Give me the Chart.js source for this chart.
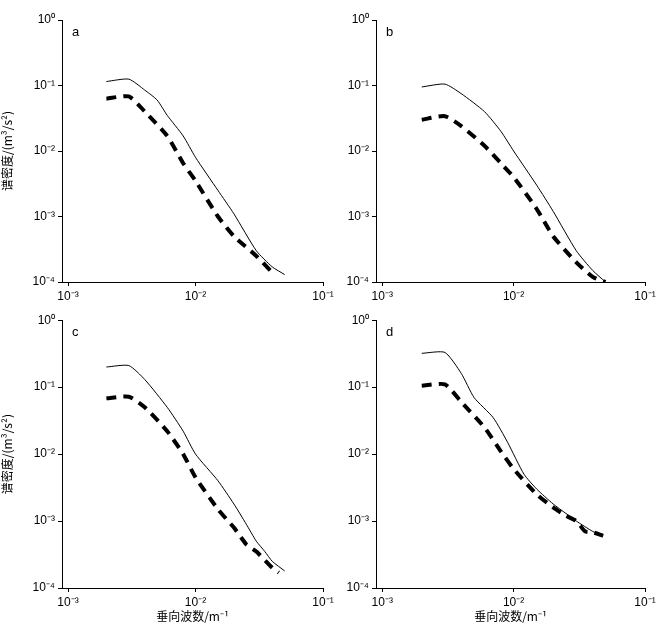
<!DOCTYPE html>
<html><head><meta charset="utf-8">
<script src="https://cdn.jsdelivr.net/npm/chart.js@4.4.0/dist/chart.umd.min.js"></script>
<style>
body{margin:0;background:#fff;width:667px;height:626px;position:relative;overflow:hidden}
.p{position:absolute}
</style></head><body>
<div class="p" style="left:0;top:0;width:340px;height:310px"><canvas id="ca"></canvas></div>
<div class="p" style="left:340px;top:0;width:327px;height:310px"><canvas id="cb"></canvas></div>
<div class="p" style="left:0;top:310px;width:340px;height:316px"><canvas id="cc"></canvas></div>
<div class="p" style="left:340px;top:310px;width:327px;height:316px"><canvas id="cd"></canvas></div>
<script>
// wavenumber (1/m) and spectral density (m^3/s^2)
const aX = [0.002, 0.003, 0.004, 0.005, 0.006, 0.008, 0.01, 0.015, 0.02, 0.03, 0.04, 0.05];
const aSolid = [0.115, 0.125, 0.085, 0.06, 0.035, 0.017, 0.008, 0.0025, 0.0011, 0.0003, 0.00017, 0.00013];
const aDashX = [0.002, 0.003, 0.004, 0.006, 0.008, 0.01, 0.015, 0.02, 0.03, 0.04];
const aDash = [0.063, 0.068, 0.04, 0.017, 0.0065, 0.0035, 0.001, 0.0005, 0.00025, 0.00014];

const bX = [0.002, 0.003, 0.004, 0.006, 0.008, 0.01, 0.015, 0.02, 0.03, 0.04, 0.05];
const bSolid = [0.095, 0.105, 0.075, 0.04, 0.02, 0.01, 0.003, 0.0012, 0.0003, 0.00015, 0.0001];
const bDash = [0.03, 0.034, 0.024, 0.012, 0.0065, 0.004, 0.0013, 0.0005, 0.0002, 0.00012, 0.0001];

const cX = [0.002, 0.003, 0.004, 0.006, 0.008, 0.01, 0.015, 0.02, 0.025, 0.03, 0.035, 0.04, 0.05];
const cSolid = [0.2, 0.21, 0.13, 0.05, 0.022, 0.01, 0.004, 0.0018, 0.0009, 0.0005, 0.00035, 0.00025, 0.00018];
const cDashX = [0.002, 0.003, 0.004, 0.006, 0.008, 0.01, 0.015, 0.02, 0.025, 0.03, 0.04, 0.045];
const cDash = [0.068, 0.072, 0.05, 0.022, 0.01, 0.0045, 0.0015, 0.0008, 0.00045, 0.00035, 0.0002, 0.00017];

const dX = [0.002, 0.003, 0.004, 0.005, 0.007, 0.009, 0.012, 0.015, 0.02, 0.025, 0.03, 0.04, 0.048];
const dSolid = [0.32, 0.33, 0.16, 0.07, 0.035, 0.015, 0.005, 0.003, 0.0018, 0.0013, 0.001, 0.0007, 0.0006];
const dDashX = [0.002, 0.003, 0.004, 0.006, 0.008, 0.01, 0.015, 0.02, 0.025, 0.03, 0.035, 0.04, 0.048];
const dDash = [0.105, 0.11, 0.06, 0.025, 0.011, 0.006, 0.0025, 0.0016, 0.0012, 0.001, 0.0007, 0.00068, 0.0006];

const xTicks = [1e-3, 1e-2, 1e-1];
const yTicks = [1e-4, 1e-3, 1e-2, 1e-1, 1];
const SUP = {'-': '⁻', '0': '⁰', '1': '¹', '2': '²', '3': '³', '4': '⁴'};

function pow10(v) {
  const e = String(Math.round(Math.log10(v)));
  return '10' + e.split('').map(c => SUP[c]).join('');
}

const pts = (xs, ys) => xs.map((x, i) => ({ x, y: ys[i] }));

const panelLabel = {
  id: 'panelLabel',
  afterDraw(chart, args, opts) {
    const { ctx, chartArea } = chart;
    ctx.save();
    ctx.font = '13px "Liberation Sans", Arial';
    ctx.fillStyle = '#000';
    ctx.fillText(opts.text, chartArea.left + 10, chartArea.top + 16);
    ctx.restore();
  }
};

function render(id, label, solid, dash, o) {
  new Chart(document.getElementById(id), {
    type: 'line',
    data: {
      datasets: [
        { data: solid, borderColor: '#000', borderWidth: 1, pointRadius: 0, tension: 0.2 },
        { data: dash, borderColor: '#000', borderWidth: 4, borderDash: [10, 7], pointRadius: 0, tension: 0.2 }
      ]
    },
    options: {
      responsive: true,
      maintainAspectRatio: false,
      animation: false,
      layout: { padding: { top: o.top, right: o.right, left: 0, bottom: 0 } },
      plugins: { legend: { display: false }, tooltip: { enabled: false }, panelLabel: { text: label } },
      scales: {
        x: {
          type: 'logarithmic', min: 0.000897, max: 0.1,
          afterBuildTicks: s => { s.ticks = xTicks.map(v => ({ value: v })); },
          afterFit: s => { s.height = o.xh; },
          border: { color: '#000' },
          grid: { drawOnChartArea: false, tickLength: 4, color: '#000' },
          ticks: { color: '#000', maxRotation: 0, callback: v => pow10(v), font: { family: '"Liberation Sans", Arial', size: 12 } },
          title: { display: o.xTitle, text: '垂向波数/m⁻¹', color: '#000', padding: 2, font: { family: '"Noto Sans CJK SC"', size: 12 } }
        },
        y: {
          type: 'logarithmic', min: 1e-4, max: 1,
          afterBuildTicks: s => { s.ticks = yTicks.map(v => ({ value: v })); },
          afterFit: s => { s.width = o.yw; },
          border: { color: '#000' },
          grid: { drawOnChartArea: false, tickLength: 4, color: '#000' },
          ticks: { color: '#000', callback: v => pow10(v), font: { family: '"Liberation Sans", Arial', size: 12 } },
          title: { display: o.yTitle, text: '谱密度/(m³/s²)', color: '#000', padding: 0, font: { family: '"Noto Sans CJK SC"', size: 12 } }
        }
      }
    },
    plugins: [panelLabel]
  });
}

render('ca', 'a', pts(aX, aSolid), pts(aDashX, aDash), { top: 20, right: 17, xh: 28, yw: 62, xTitle: false, yTitle: true });
render('cb', 'b', pts(bX, bSolid), pts(bX, bDash), { top: 20, right: 22, xh: 28, yw: 36, xTitle: false, yTitle: false });
render('cc', 'c', pts(cX, cSolid), pts(cDashX, cDash), { top: 10, right: 17, xh: 38, yw: 62, xTitle: true, yTitle: true });
render('cd', 'd', pts(dX, dSolid), pts(dDashX, dDash), { top: 10, right: 22, xh: 38, yw: 36, xTitle: true, yTitle: false });
</script>
</body></html>
